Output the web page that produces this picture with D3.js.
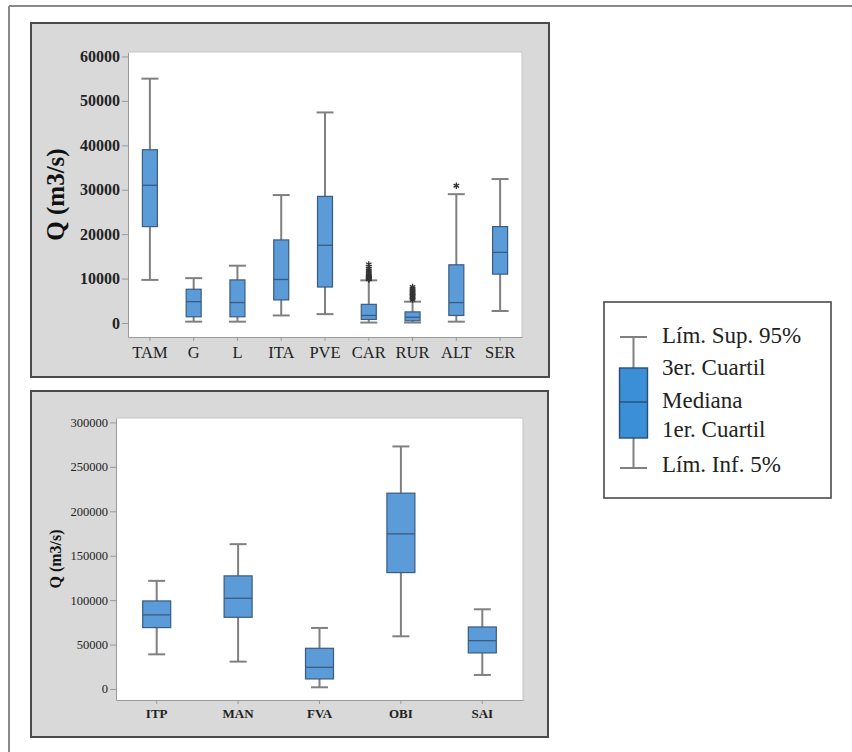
<!DOCTYPE html>
<html>
<head>
<meta charset="utf-8">
<script src="https://cdn.jsdelivr.net/npm/d3@7"></script>
<style>
  body { margin: 0; background: #fff; }
  svg { display: block; }
  .axis path, .axis line { stroke: #9a9a9a; }
  .axis text { fill: #222; }
</style>
</head>
<body>
<script>
// upper panel data (Q in m3/s)
var topCats = ['TAM', 'G', 'L', 'ITA', 'PVE', 'CAR', 'RUR', 'ALT', 'SER']
var topLow  = [9700, 300, 300, 1700, 2000, 100, 100, 300, 2700]
var topQ1   = [21700, 1400, 1400, 5200, 8100, 800, 500, 1700, 11000]
var topMed  = [31000, 4800, 4600, 9800, 17500, 1700, 1300, 4600, 15900]
var topQ3   = [39000, 7600, 9700, 18700, 28500, 4200, 2500, 13100, 21700]
var topHigh = [55000, 10100, 12900, 28800, 47400, 9600, 4800, 29000, 32400]
var topOutliers = [
  {cat: 'CAR', values: [9800, 9900, 10000, 10100, 10200, 10300, 10500, 10700, 11000, 11300, 11700, 12200, 12700, 13200]},
  {cat: 'RUR', values: [5200, 5500, 5800, 6100, 6400, 6700, 7000, 7300, 7700, 8100]},
  {cat: 'ALT', values: [30900]}
]
var topTicks = [0, 10000, 20000, 30000, 40000, 50000, 60000]

// lower panel data
var botCats = ['ITP', 'MAN', 'FVA', 'OBI', 'SAI']
var botLow  = [39000, 30800, 1900, 59300, 15800]
var botQ1   = [69100, 80700, 11300, 131000, 40600]
var botMed  = [83400, 102100, 24400, 174600, 54400]
var botQ3   = [99100, 127300, 45800, 220400, 69800]
var botHigh = [121700, 163000, 68700, 273000, 89700]
var botTicks = [0, 50000, 100000, 150000, 200000, 250000, 300000]

var legendLabels = ['Lím. Sup. 95%', '3er. Cuartil', 'Mediana', '1er. Cuartil', 'Lím. Inf. 5%']

var boxFill = '#5b9bd8'
var boxStroke = '#3b5b80'
var whiskerColor = '#808080'
var serif = 'Liberation Serif, DejaVu Serif, serif'

var svg = d3.select('body').append('svg').attr('width', 852).attr('height', 752)
  .attr('font-family', serif)

// outer frame (only top and left visible)
svg.append('line').attr('x1', 9).attr('y1', 6).attr('x2', 852).attr('y2', 6)
  .attr('stroke', '#8a8a8a').attr('stroke-width', 2)
svg.append('line').attr('x1', 9).attr('y1', 6).attr('x2', 9).attr('y2', 752)
  .attr('stroke', '#8a8a8a').attr('stroke-width', 2)

function drawPanel(cfg) {
  var g = svg.append('g')
  g.append('rect')
    .attr('x', cfg.panel[0]).attr('y', cfg.panel[1])
    .attr('width', cfg.panel[2]).attr('height', cfg.panel[3])
    .attr('fill', '#d9d9d9').attr('stroke', '#4a4a4a').attr('stroke-width', 2)
  g.append('rect')
    .attr('x', cfg.plot.left).attr('y', cfg.plot.top)
    .attr('width', cfg.plot.right - cfg.plot.left).attr('height', cfg.plot.bottom - cfg.plot.top)
    .attr('fill', '#fff')

  var x = d3.scaleBand().domain(cfg.cats).range([cfg.plot.left, cfg.plot.right]).padding(0)
  var y = d3.scaleLinear().domain(cfg.domain).range([cfg.plot.bottom, cfg.plot.top])

  var yAxis = d3.axisLeft(y).tickValues(cfg.ticks).tickFormat(d3.format('d'))
    .tickSize(6).tickSizeOuter(0).tickPadding(2)
  var xAxis = d3.axisBottom(x).tickSize(4).tickSizeOuter(0).tickPadding(cfg.xPad)

  g.append('g').attr('class', 'axis')
    .attr('transform', 'translate(' + cfg.plot.left + ',0)')
    .call(yAxis)
    .attr('font-family', serif)
    .selectAll('text').style('font-size', cfg.tickFont + 'px').style('font-weight', cfg.tickWeight)
  g.append('g').attr('class', 'axis')
    .attr('transform', 'translate(0,' + cfg.plot.bottom + ')')
    .call(xAxis)
    .attr('font-family', serif)
    .selectAll('text').style('font-size', cfg.catFont + 'px').style('font-weight', cfg.catWeight)
  // right / top plot border
  g.append('path')
    .attr('d', 'M' + cfg.plot.left + ',' + cfg.plot.top + 'H' + cfg.plot.right + 'V' + cfg.plot.bottom)
    .attr('fill', 'none').attr('stroke', '#c4c4c4')

  g.append('text')
    .attr('transform', 'translate(' + cfg.titleX + ',' + ((cfg.plot.top + cfg.plot.bottom) / 2) + ') rotate(-90)')
    .attr('text-anchor', 'middle')
    .style('font-size', cfg.titleFont + 'px').style('font-weight', 'bold').attr('fill', '#111')
    .text('Q (m3/s)')

  var cx = function (i) { return x(cfg.cats[i]) + x.bandwidth() / 2 }
  var idx = d3.range(cfg.cats.length)

  // whiskers
  g.selectAll('line.whisker').data(idx).enter().append('line')
    .attr('x1', cx).attr('x2', cx)
    .attr('y1', function (i) { return y(cfg.low[i]) })
    .attr('y2', function (i) { return y(cfg.high[i]) })
    .attr('stroke', whiskerColor).attr('stroke-width', 2)
  ;['low', 'high'].forEach(function (k) {
    g.selectAll('line.cap-' + k).data(idx).enter().append('line')
      .attr('x1', function (i) { return cx(i) - cfg.capW / 2 })
      .attr('x2', function (i) { return cx(i) + cfg.capW / 2 })
      .attr('y1', function (i) { return y(cfg[k][i]) })
      .attr('y2', function (i) { return y(cfg[k][i]) })
      .attr('stroke', whiskerColor).attr('stroke-width', 2)
  })
  // boxes
  g.selectAll('rect.box').data(idx).enter().append('rect')
    .attr('x', function (i) { return cx(i) - cfg.boxW / 2 })
    .attr('y', function (i) { return y(cfg.q3[i]) })
    .attr('width', cfg.boxW)
    .attr('height', function (i) { return y(cfg.q1[i]) - y(cfg.q3[i]) })
    .attr('fill', boxFill).attr('stroke', boxStroke).attr('stroke-width', 1.2)
  g.selectAll('line.median').data(idx).enter().append('line')
    .attr('x1', function (i) { return cx(i) - cfg.boxW / 2 })
    .attr('x2', function (i) { return cx(i) + cfg.boxW / 2 })
    .attr('y1', function (i) { return y(cfg.med[i]) })
    .attr('y2', function (i) { return y(cfg.med[i]) })
    .attr('stroke', boxStroke).attr('stroke-width', 1.3)

  // outliers
  var star = d3.symbol().type(d3.symbolAsterisk).size(28)
  ;(cfg.outliers || []).forEach(function (o) {
    var px = x(o.cat) + x.bandwidth() / 2
    g.selectAll(null).data(o.values).enter().append('path')
      .attr('d', star)
      .attr('transform', function (v) { return 'translate(' + px + ',' + y(v) + ')' })
      .attr('fill', 'none').attr('stroke', '#333').attr('stroke-width', 1.3)
  })
}

drawPanel({
  panel: [31, 23, 518, 354],
  plot: {left: 128, right: 522, top: 52, bottom: 337},
  cats: topCats, low: topLow, q1: topQ1, med: topMed, q3: topQ3, high: topHigh,
  outliers: topOutliers,
  domain: [-3150, 61000], ticks: topTicks,
  boxW: 15, capW: 17,
  tickFont: 16, tickWeight: 'bold', catFont: 16.5, catWeight: 'normal', xPad: 5,
  titleX: 64, titleFont: 25
})

drawPanel({
  panel: [31, 391, 517, 346],
  plot: {left: 116, right: 523, top: 418, bottom: 700},
  cats: botCats, low: botLow, q1: botQ1, med: botMed, q3: botQ3, high: botHigh,
  outliers: [],
  domain: [-12400, 305000], ticks: botTicks,
  boxW: 28, capW: 17,
  tickFont: 12.5, tickWeight: 'normal', catFont: 13, catWeight: 'bold', xPad: 5,
  titleX: 61, titleFont: 16
})

// legend
var lg = svg.append('g').attr('font-family', serif)
lg.append('rect').attr('x', 604).attr('y', 302).attr('width', 227).attr('height', 196)
  .attr('fill', '#fff').attr('stroke', '#4a4a4a').attr('stroke-width', 1.6)
var legY = [337, 368, 402, 438, 468]
var lx = 633.5
lg.append('line').attr('x1', lx).attr('x2', lx).attr('y1', legY[0]).attr('y2', legY[4])
  .attr('stroke', whiskerColor).attr('stroke-width', 2)
;[legY[0], legY[4]].forEach(function (yy) {
  lg.append('line').attr('x1', lx - 13.5).attr('x2', lx + 13.5).attr('y1', yy).attr('y2', yy)
    .attr('stroke', whiskerColor).attr('stroke-width', 2)
})
lg.append('rect').attr('x', lx - 14).attr('y', legY[1]).attr('width', 28).attr('height', legY[3] - legY[1])
  .attr('fill', '#3a8fd6').attr('stroke', '#2a4e78').attr('stroke-width', 1.4)
lg.append('line').attr('x1', lx - 14).attr('x2', lx + 14).attr('y1', legY[2]).attr('y2', legY[2])
  .attr('stroke', '#2a4e78').attr('stroke-width', 1.4)
var legBase = [343, 375, 408, 437, 472]
lg.selectAll('text.leg').data(legendLabels).enter().append('text')
  .attr('x', 662).attr('y', function (d, i) { return legBase[i] })
  .attr('font-family', serif)
  .style('font-size', '23px').attr('fill', '#222')
  .text(function (d) { return d })
</script>
</body>
</html>
